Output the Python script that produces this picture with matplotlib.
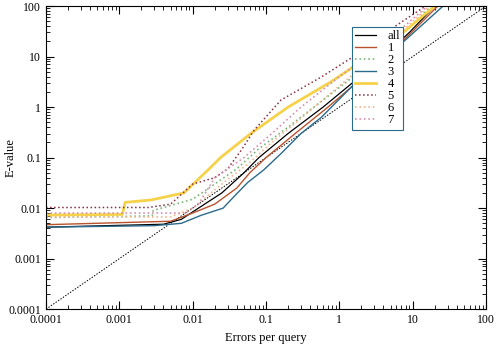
import matplotlib.pyplot as plt
import numpy as np

plt.rcParams['font.family'] = ['Liberation Serif', 'DejaVu Serif']

# curves: (errors per query, E-value)
all_x = [1e-4, 0.004, 0.007, 0.012, 0.025, 0.05, 0.08, 0.2, 0.6, 1.5, 4, 9, 20]
all_y = [0.0042, 0.0048, 0.006, 0.01, 0.02, 0.05, 0.1, 0.3, 1, 3, 10, 30, 100]

s1_x = [1e-4, 0.005, 0.01, 0.02, 0.04, 0.06, 0.1, 0.25, 0.7, 1.7, 4.5, 22]
s1_y = [0.0047, 0.0055, 0.008, 0.012, 0.025, 0.05, 0.1, 0.3, 1, 3, 10, 100]

s2_x = [1e-4, 0.0028, 0.0029, 0.01, 0.02, 0.04, 0.08, 0.2, 0.45, 1.2, 3.5, 18]
s2_y = [0.0065, 0.007, 0.009, 0.015, 0.03, 0.06, 0.15, 0.4, 1, 3, 10, 100]

s3_x = [1e-4, 0.003, 0.007, 0.013, 0.026, 0.036, 0.056, 0.093, 0.16, 0.3, 0.57, 1.46, 7, 26]
s3_y = [0.0042, 0.0045, 0.005, 0.0072, 0.01, 0.0165, 0.032, 0.057, 0.12, 0.3, 0.63, 2.5, 18, 100]

s4_x = [1e-4, 0.0011, 0.0012, 0.0027, 0.0076, 0.016, 0.024, 0.062, 0.2, 0.78, 1.46, 7, 20]
s4_y = [0.0073, 0.0075, 0.013, 0.0145, 0.02, 0.056, 0.1, 0.3, 1.0, 3.2, 5.9, 28, 100]

s5_x = [1e-4, 0.0025, 0.005, 0.01, 0.02, 0.03, 0.046, 0.069, 0.16, 0.56, 1.46, 4, 15]
s5_y = [0.0103, 0.0103, 0.012, 0.03, 0.04, 0.06, 0.14, 0.35, 1.38, 3.9, 9.4, 28, 100]

s6_x = [1e-4, 0.005, 0.01, 0.025, 0.06, 0.12, 0.3, 0.8, 2.5, 17]
s6_y = [0.0067, 0.0067, 0.01, 0.03, 0.08, 0.2, 0.6, 2, 8, 100]

s7_x = [1e-4, 0.008, 0.012, 0.02, 0.05, 0.12, 0.3, 1, 3.5, 16]
s7_y = [0.008, 0.008, 0.012, 0.04, 0.1, 0.3, 1, 4, 15, 100]

labels = ['all', '1', '2', '3', '4', '5', '6', '7']
xs = [all_x, s1_x, s2_x, s3_x, s4_x, s5_x, s6_x, s7_x]
ys = [all_y, s1_y, s2_y, s3_y, s4_y, s5_y, s6_y, s7_y]
colors = ['black', '#b8532e', '#7cb87a', '#2a6b8c', '#f5d24a', '#8a3040', '#f0b890', '#d890b0']
styles = ['-', '-', ':', '-', '-', ':', ':', ':']
widths = [0.9, 1.0, 1.2, 1.0, 2.0, 1.1, 1.2, 1.2]

fig = plt.figure(figsize=(5, 3.57), dpi=100)
ax = fig.add_axes([0.092, 0.134, 0.880, 0.849])

diag = np.array([1e-4, 100])
ax.plot(diag, diag, color='black', linestyle=(0, (1.5, 1.5)), linewidth=0.7)

for x, y, lab, c, ls, lw in zip(xs, ys, labels, colors, styles, widths):
    ax.plot(x, y, color=c, linestyle=ls, linewidth=lw, label=lab)

ax.set_xscale('log')
ax.set_yscale('log')
ax.set_xlim(1e-4, 100)
ax.set_ylim(1e-4, 100)
ticks = [1e-4, 1e-3, 1e-2, 1e-1, 1, 10, 100]
ticklabels = ['0.0001', '0.001', '0.01', '0.1', '1', '10', '100']
ax.set_xticks(ticks)
ax.set_xticklabels(ticklabels)
ax.set_yticks(ticks)
ax.set_yticklabels(ticklabels)
ax.tick_params(which='both', direction='in', top=True, right=True, labelsize=8.5)
ax.tick_params(which='major', length=6, width=0.8)
ax.tick_params(which='minor', length=3, width=0.6)
ax.set_xlabel('Errors per query', fontsize=9)
ax.set_ylabel('E-value', fontsize=9)
ax.yaxis.set_label_coords(-0.066, 0.5)

leg = ax.legend(loc='upper left', bbox_to_anchor=(0.695, 0.93), fontsize=9,
                fancybox=False, framealpha=1, edgecolor='#2a6b8c',
                handlelength=1.7, borderpad=0.25, labelspacing=0.0,
                handletextpad=0.9, borderaxespad=0)
leg.get_frame().set_linewidth(0.8)

fig.savefig('out.png', dpi=100)
